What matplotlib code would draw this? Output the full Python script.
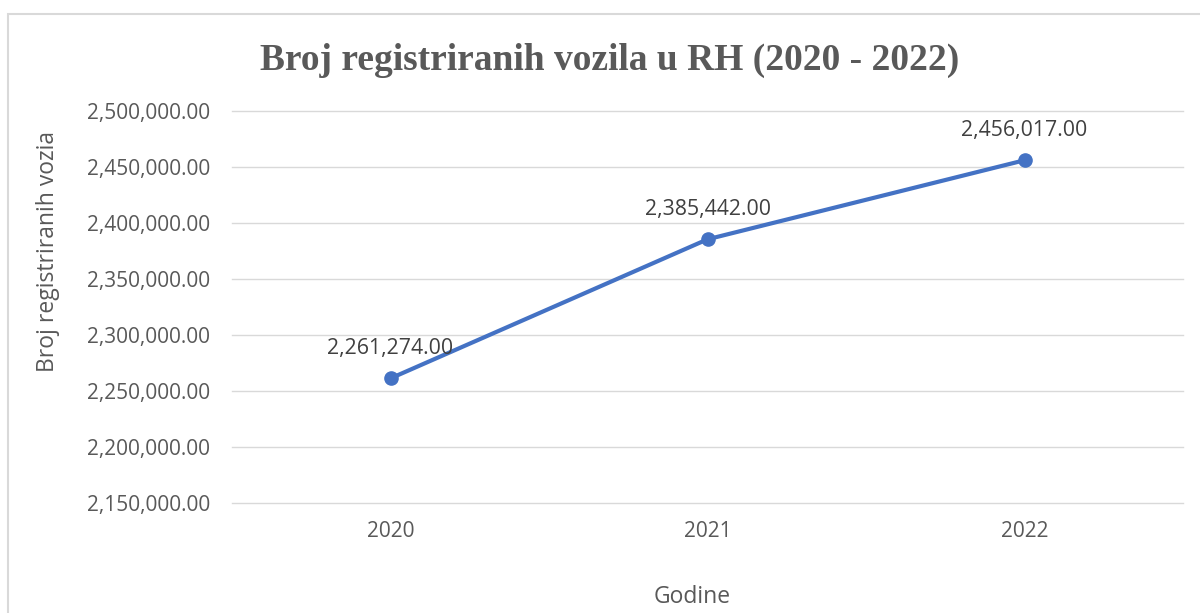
import matplotlib.pyplot as plt
from matplotlib.patches import Rectangle
from matplotlib.ticker import FuncFormatter

godine = ["2020", "2021", "2022"]
vozila = [2261274, 2385442, 2456017]

plt.rcParams['font.family'] = ['Open Sans', 'DejaVu Sans']

fig = plt.figure(figsize=(12, 6.13), dpi=100)
ax = fig.add_axes([232/1200, 1-503/613, (1183-232)/1200, (503-111)/613])

# outer chart border (Excel style)
fig.patches.append(Rectangle((8/1200, -0.1), 1.2, 1-14/613+0.1, transform=fig.transFigure,
                             fill=False, edgecolor="#d9d9d9", linewidth=1.5))

x = list(range(len(godine)))
ax.plot(x, vozila, color="#4472C4", linewidth=3, marker="o", markersize=9.5,
        solid_capstyle="round", zorder=3)

for xi, v in zip(x, vozila):
    ax.annotate("{:,.2f}".format(v), (xi, v), xytext=(0, 21.5), textcoords="offset points",
                ha="center", va="center", fontsize=15.3, color="#404040")

ax.set_xlim(-0.5, 2.5)
ax.set_ylim(2150000, 2500000)
ax.set_yticks(range(2150000, 2500001, 50000))
ax.yaxis.set_major_formatter(FuncFormatter(lambda v, p: "{:,.2f}".format(v)))
ax.set_xticks(x)
ax.set_xticklabels(godine)
ax.tick_params(axis="both", length=0, labelsize=15, labelcolor="#595959")
ax.tick_params(axis="y", pad=16)
ax.tick_params(axis="x", pad=13)
ax.grid(axis="y", color="#d9d9d9", linewidth=1)
for gl in ax.get_ygridlines():
    gl.set_clip_on(False)
ax.set_axisbelow(True)
for s in ax.spines.values():
    s.set_visible(False)

fig.text(48/1200, 1-251/613, "Broj registriranih vozia", rotation=90, ha="center", va="center",
         fontsize=16.5, color="#595959")
fig.text(692/1200, 1-597/613, "Godine", ha="center", va="center", fontsize=16.5, color="#595959")
fig.text(610/1200, 1-60/613, "Broj registriranih vozila u RH (2020 - 2022)", ha="center", va="center",
         fontsize=27, fontweight="bold", color="#595959", family="Liberation Serif")

fig.savefig("out.png", dpi=100)
